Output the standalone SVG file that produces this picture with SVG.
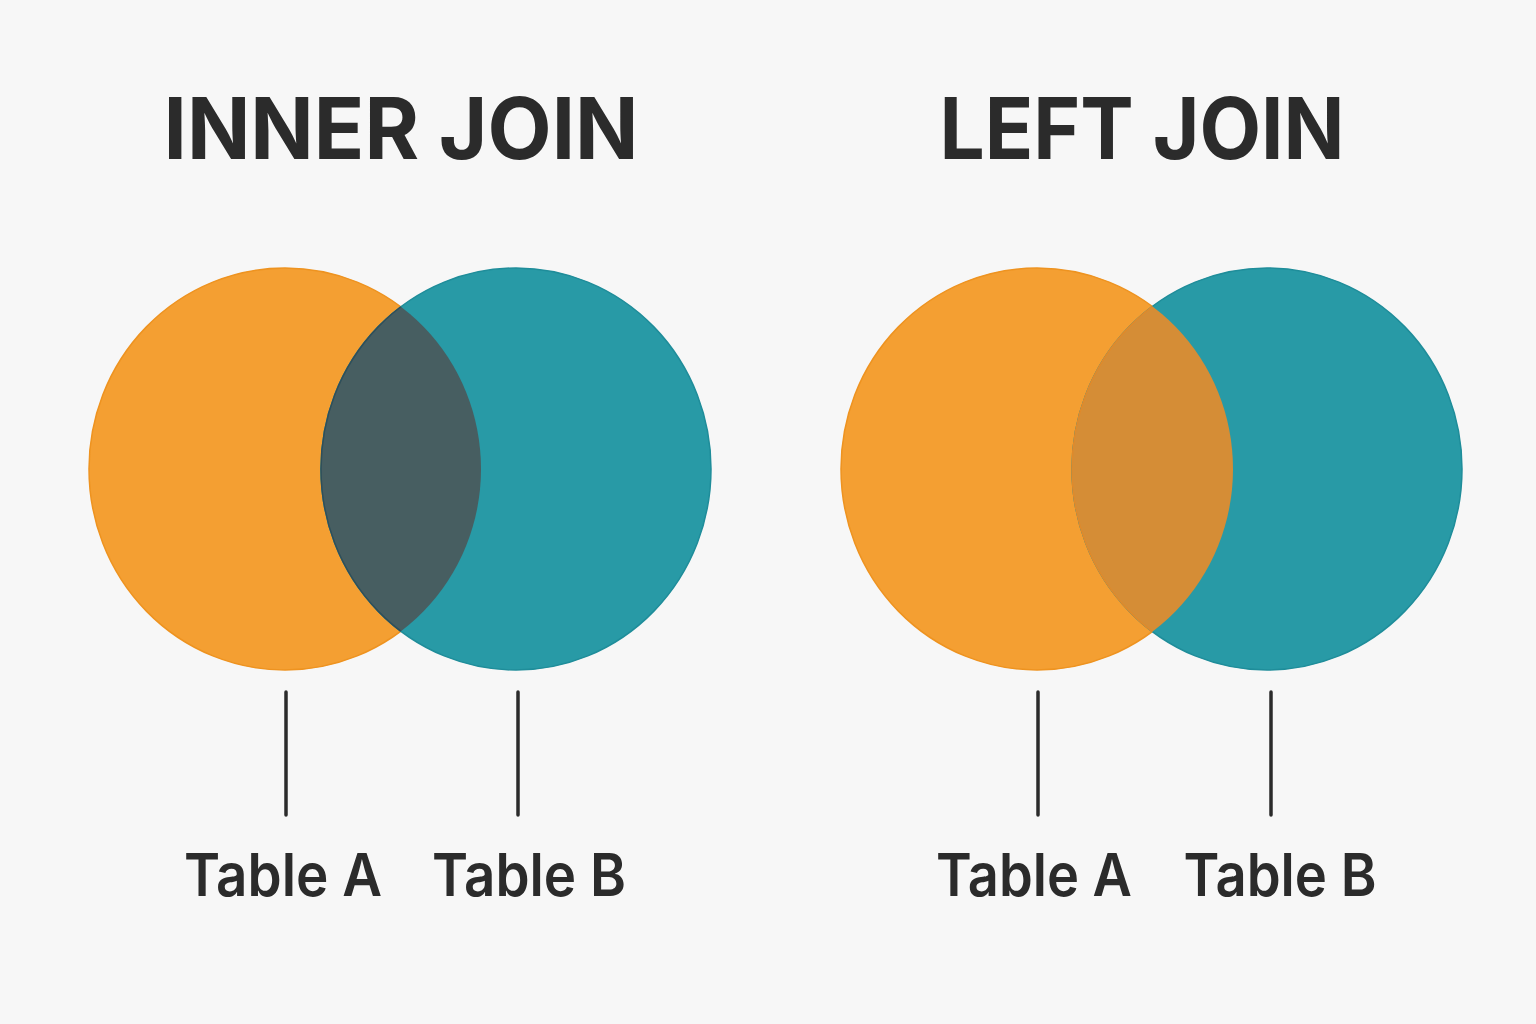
<svg xmlns="http://www.w3.org/2000/svg" width="1536" height="1024" viewBox="0 0 1536 1024">
<style>
.title{font-family:Inter,"Liberation Sans",sans-serif;font-weight:700;font-size:85px;fill:#2b2b2b;text-anchor:middle}
.lbl{font-family:Inter,"Liberation Sans",sans-serif;font-weight:600;font-size:59px;fill:#2b2b2b;text-anchor:middle}
.a{fill:#F49F32;stroke:#EE9320;stroke-width:1.5}
.b{fill:#289AA6;stroke:#1F8D9A;stroke-width:1.5}
.lead{stroke:#2b2b2b;stroke-width:3.5;stroke-linecap:round}
</style>
<defs>
<clipPath id="clipA1"><ellipse cx="285" cy="469" rx="196" ry="201"/></clipPath>
<clipPath id="clipA2"><ellipse cx="1037" cy="469" rx="196" ry="201"/></clipPath>
</defs>
<rect width="1536" height="1024" fill="#F7F7F7"/>
<text class="title" x="401" y="159" textLength="475" lengthAdjust="spacingAndGlyphs">INNER JOIN</text>
<text class="title" x="1142" y="159" textLength="405" lengthAdjust="spacingAndGlyphs">LEFT JOIN</text>
<g id="inner-join">
<g id="inner-tableA"><ellipse class="a" cx="285" cy="469" rx="196" ry="201"/></g>
<g id="inner-tableB"><ellipse class="b" cx="516" cy="469" rx="195" ry="201"/></g>
<g id="inner-overlap"><ellipse cx="516" cy="469" rx="195" ry="201" fill="#475E61" stroke="#2F4F5A" stroke-width="1.5" clip-path="url(#clipA1)"/></g>
</g>
<g id="left-join">
<g id="left-tableA"><ellipse class="a" cx="1037" cy="469" rx="196" ry="201"/></g>
<g id="left-tableB"><ellipse class="b" cx="1267" cy="469" rx="195" ry="201"/></g>
<g id="left-overlap"><ellipse cx="1267" cy="469" rx="195" ry="201" fill="#D58D36" stroke="#E08A2A" stroke-width="1.5" clip-path="url(#clipA2)"/></g>
</g>
<g id="connectors">
<line class="lead" x1="286" y1="692" x2="286" y2="815"/>
<line class="lead" x1="518" y1="692" x2="518" y2="815"/>
<line class="lead" x1="1038" y1="692" x2="1038" y2="815"/>
<line class="lead" x1="1271" y1="692" x2="1271" y2="815"/>
</g>
<g id="labels">
<text class="lbl" x="283" y="896" textLength="198" lengthAdjust="spacingAndGlyphs">Table A</text>
<text class="lbl" x="529" y="896" textLength="194" lengthAdjust="spacingAndGlyphs">Table B</text>
<text class="lbl" x="1034" y="896" textLength="196" lengthAdjust="spacingAndGlyphs">Table A</text>
<text class="lbl" x="1280" y="896" textLength="193" lengthAdjust="spacingAndGlyphs">Table B</text>
</g>
</svg>
